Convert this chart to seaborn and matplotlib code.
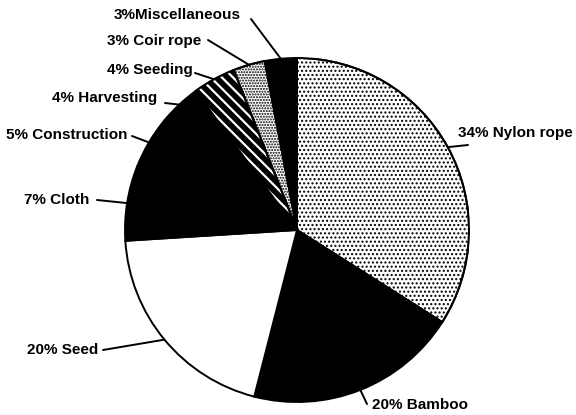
import numpy as np
import matplotlib
matplotlib.use("Agg")
import matplotlib.pyplot as plt
from matplotlib.patches import Wedge
import seaborn as sns

# data
categories = ["Nylon rope", "Bamboo", "Seed", "Cloth", "Construction",
              "Harvesting", "Seeding", "Coir rope", "Miscellaneous"]
shares = [34, 20, 20, 7, 5, 4, 4, 3, 3]
label_texts = ["34% Nylon rope", "20% Bamboo", "20% Seed", "7% Cloth",
               "5% Construction", "4% Harvesting", "4% Seeding",
               "3% Coir rope", "3%Miscellaneous"]

# styles per slice: (face, hatch, hatch colour, hatch width)
styles = [("white", "....", "black", 1.0),
          ("black", None, None, None),
          ("white", None, None, None),
          ("black", None, None, None),
          ("black", None, None, None),
          ("black", None, None, None),
          ("black", "\\\\\\", "white", 1.6),
          ("white", "......", "black", 1.0),
          ("black", None, None, None)]

# label layout in pixels: text x, text y, ha, line start x, line start y
W, H = 576, 415
CX, CY, R = 297, 230, 172
layout = [(458, 133, "left", 468, 145),
          (372, 405, "left", 367, 404),
          (98, 350, "right", 103, 350),
          (89, 200, "right", 97, 200),
          (127, 135, "right", 132, 136),
          (157, 98, "right", 165, 103),
          (193, 70, "right", 195, 73),
          (201, 41, "right", 208, 40),
          (241, 15, "right", 251, 19)]


def px(x, y):
    return (x - CX) / R, (CY - y) / R


sns.set_style("white")
plt.rcParams["font.family"] = ["Liberation Sans", "DejaVu Sans"]

fig = plt.figure(figsize=(W / 100, H / 100), dpi=100)
ax = fig.add_axes([(CX - R) / W, (H - CY - R) / H, 2 * R / W, 2 * R / H])

wedges, _ = ax.pie(shares, startangle=90, counterclock=False,
                   wedgeprops=dict(edgecolor="black", linewidth=1.4))
for w, (face, hatch, hc, hw) in zip(wedges, styles):
    w.set_facecolor(face)
    if hatch:
        # hatch drawn on an overlay wedge so its colour can differ from the outline
        plt.rcParams["hatch.linewidth"] = hw
        ov = Wedge(w.center, w.r, w.theta1, w.theta2, facecolor="none",
                   edgecolor=hc, linewidth=0, hatch=hatch, zorder=w.get_zorder() + 0.1)
        ax.add_patch(ov)
        outline = Wedge(w.center, w.r, w.theta1, w.theta2, facecolor="none",
                        edgecolor="black", linewidth=1.4, zorder=w.get_zorder() + 0.2)
        ax.add_patch(outline)

ax.set_xlim(-1, 1)
ax.set_ylim(-1, 1)
ax.set_aspect("auto")
ax.axis("off")

for w, txt, (tx, ty, ha, lx, ly) in zip(wedges, label_texts, layout):
    mid = np.deg2rad((w.theta1 + w.theta2) / 2)
    ex, ey = np.cos(mid) * 1.0, np.sin(mid) * 1.0
    sx, sy = px(lx, ly)
    ax.plot([sx, ex], [sy, ey], color="black", lw=1.4, clip_on=False)
    x, y = px(tx, ty)
    ax.text(x, y, txt, ha=ha, va="center", fontsize=11, fontweight="bold",
            color="black", clip_on=False)

fig.savefig("out.png", dpi=100)
